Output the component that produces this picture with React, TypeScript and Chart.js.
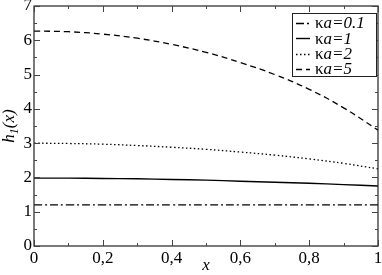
import React, { useEffect, useRef } from "react";
import { Chart, registerables } from "chart.js";

Chart.register(...registerables);

const xValues = [0, 0.1, 0.2, 0.3, 0.4, 0.5, 0.6, 0.7, 0.8, 0.9, 1.0];
const seriesKa01 = [1.2, 1.2, 1.2, 1.2, 1.2, 1.2, 1.2, 1.2, 1.2, 1.2, 1.2];
const seriesKa1 = [1.98, 1.98, 1.97, 1.96, 1.94, 1.92, 1.89, 1.86, 1.83, 1.79, 1.75];
const seriesKa2 = [3.0, 2.99, 2.97, 2.93, 2.88, 2.82, 2.74, 2.65, 2.54, 2.41, 2.25];
const seriesKa5 = [6.27, 6.25, 6.18, 6.06, 5.88, 5.65, 5.35, 5.0, 4.57, 4.03, 3.38];
const legendLabels = ["0.1", "1", "2", "5"];
const xTicks = [0, 0.2, 0.4, 0.6, 0.8, 1];
const yTicks = [0, 1, 2, 3, 4, 5, 6, 7];

const FONT = "'Liberation Serif', serif";
const FRAME = "#222";

const decorPlugin = {
  id: "decor",
  afterDraw(chart: any) {
    const ctx = chart.ctx;
    const { left, right, top, bottom } = chart.chartArea;
    const xs = chart.scales.x;
    const ys = chart.scales.y;
    ctx.save();
    // frame
    ctx.strokeStyle = FRAME;
    ctx.lineWidth = 1.2;
    ctx.setLineDash([]);
    ctx.strokeRect(left, top, right - left, bottom - top);
    // ticks (inward, mirrored)
    ctx.lineWidth = 1;
    ctx.strokeStyle = "#444";
    for (let v = 0; v <= 1.0001; v += 0.1) {
      const px = Math.round(xs.getPixelForValue(v)) + 0.5;
      const major = Math.round(v * 10) % 2 === 0;
      const len = major ? 6 : 3;
      ctx.beginPath();
      ctx.moveTo(px, bottom);
      ctx.lineTo(px, bottom - len);
      ctx.moveTo(px, top);
      ctx.lineTo(px, top + len);
      ctx.stroke();
    }
    for (let v = 0; v <= 7.0001; v += 0.5) {
      const py = Math.round(ys.getPixelForValue(v)) + 0.5;
      const major = Math.round(v * 2) % 2 === 0;
      const len = major ? 6 : 3;
      ctx.beginPath();
      ctx.moveTo(left, py);
      ctx.lineTo(left + len, py);
      ctx.moveTo(right, py);
      ctx.lineTo(right - len, py);
      ctx.stroke();
    }
    // axis titles
    ctx.fillStyle = "#000";
    ctx.textBaseline = "alphabetic";
    ctx.font = `italic 17px ${FONT}`;
    ctx.textAlign = "center";
    ctx.fillText("x", (left + right) / 2, 270);
    // y title h_1(x)
    ctx.save();
    ctx.translate(14, (top + bottom) / 2);
    ctx.rotate(-Math.PI / 2);
    ctx.textAlign = "left";
    const p1 = "h";
    const p2 = "1";
    const p3 = "(x)";
    ctx.font = `italic 17px ${FONT}`;
    const w1 = ctx.measureText(p1).width;
    const w3 = ctx.measureText(p3).width;
    ctx.font = `italic 12px ${FONT}`;
    const w2 = ctx.measureText(p2).width;
    const total = w1 + w2 + w3;
    let x0 = -total / 2;
    ctx.font = `italic 17px ${FONT}`;
    ctx.fillText(p1, x0, 0);
    x0 += w1;
    ctx.font = `italic 12px ${FONT}`;
    ctx.fillText(p2, x0, 4);
    x0 += w2;
    ctx.font = `italic 17px ${FONT}`;
    ctx.fillText(p3, x0, 0);
    ctx.restore();

    // legend
    const lx = 292, ly = 13, lw = 84, lh = 63;
    ctx.fillStyle = "#fff";
    ctx.fillRect(lx, ly, lw, lh);
    ctx.strokeStyle = FRAME;
    ctx.lineWidth = 1;
    ctx.strokeRect(lx + 0.5, ly + 0.5, lw, lh);
    chart.data.datasets.forEach((ds: any, i: number) => {
      const cy = 23 + i * 15.3;
      ctx.strokeStyle = ds.borderColor;
      ctx.lineWidth = ds.borderWidth;
      ctx.setLineDash(ds.borderDash || []);
      ctx.beginPath();
      ctx.moveTo(296, Math.round(cy) + 0.5);
      ctx.lineTo(310, Math.round(cy) + 0.5);
      ctx.stroke();
      ctx.setLineDash([]);
      ctx.fillStyle = "#000";
      ctx.textAlign = "left";
      ctx.textBaseline = "middle";
      ctx.font = `17px ${FONT}`;
      const k = "\u03ba";
      ctx.fillText(k, 315, cy + 1);
      const kw = ctx.measureText(k).width;
      ctx.font = `italic 17px ${FONT}`;
      ctx.fillText("a=" + legendLabels[i], 315 + kw, cy + 1);
    });
    ctx.restore();
  },
};

export default function App() {
  const ref = useRef<HTMLCanvasElement | null>(null);
  useEffect(() => {
    document.body.style.margin = "0";
    const mk = (data: number[]) => data.map((y, i) => ({ x: xValues[i], y }));
    const chart = new Chart(ref.current as HTMLCanvasElement, {
      type: "line",
      data: {
        datasets: [
          { data: mk(seriesKa01), borderColor: "#000", borderWidth: 1.3, borderDash: [8, 3, 2, 3], pointRadius: 0, tension: 0.4, fill: false },
          { data: mk(seriesKa1), borderColor: "#000", borderWidth: 1.4, borderDash: [], pointRadius: 0, tension: 0.4, fill: false },
          { data: mk(seriesKa2), borderColor: "#000", borderWidth: 1.3, borderDash: [1.5, 2.5], pointRadius: 0, tension: 0.4, fill: false },
          { data: mk(seriesKa5), borderColor: "#000", borderWidth: 1.3, borderDash: [6, 4], pointRadius: 0, tension: 0.4, fill: false },
        ],
      },
      options: {
        responsive: false,
        animation: false,
        layout: { padding: { left: 0, right: 4, top: 6, bottom: 0 } },
        plugins: { legend: { display: false }, tooltip: { enabled: false } },
        scales: {
          x: {
            type: "linear",
            min: 0,
            max: 1,
            grid: { display: false, drawTicks: false, tickLength: 0 },
            border: { display: false },
            afterBuildTicks: (s: any) => { s.ticks = xTicks.map((v) => ({ value: v })); },
            afterFit: (s: any) => { s.height = 29; s.paddingLeft = 0; s.paddingRight = 0; },
            ticks: {
              color: "#000",
              padding: 2,
              maxRotation: 0,
              font: { family: FONT, size: 17 },
              callback: (v: any) => String(v).replace(".", ","),
            },
          },
          y: {
            type: "linear",
            min: 0,
            max: 7,
            grid: { display: false, drawTicks: false, tickLength: 0 },
            border: { display: false },
            afterBuildTicks: (s: any) => { s.ticks = yTicks.map((v) => ({ value: v })); },
            afterFit: (s: any) => { s.width = 34; s.paddingTop = 0; s.paddingBottom = 0; },
            ticks: {
              color: "#000",
              padding: 2,
              font: { family: FONT, size: 17 },
            },
          },
        },
      },
      plugins: [decorPlugin],
    } as any);
    return () => chart.destroy();
  }, []);
  return <canvas ref={ref} width={382} height={275} style={{ display: "block" }} />;
}
